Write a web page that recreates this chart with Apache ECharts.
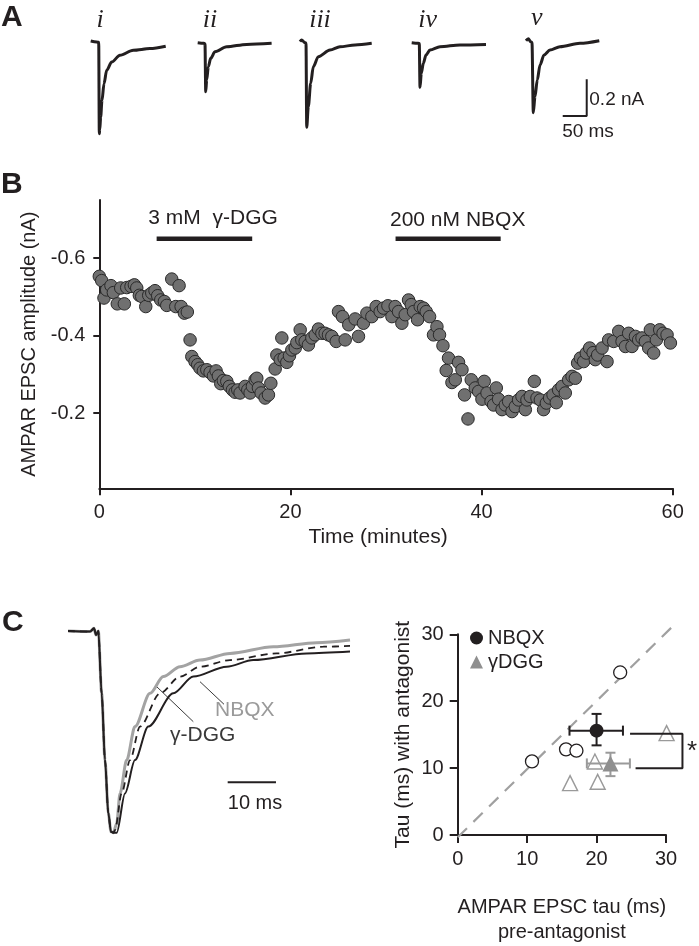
<!DOCTYPE html>
<html><head><meta charset="utf-8">
<script src="https://cdn.jsdelivr.net/npm/echarts@6/dist/echarts.min.js"></script>
<style>html,body{margin:0;padding:0;background:#fff}#c{width:699px;height:946px}</style>
</head><body><div id="c"></div>
<script>
// ---------- Panel A: example EPSC traces [time (ms), current (nA)] ----------
const traceI = [[0,0.005],[12.5,0],[16.7,-0.002],[17.9,-0.5],[18.75,-0.48],[20.8,-0.409],[23.5,-0.318],[27.7,-0.227],[33.3,-0.154],[43.75,-0.109],[61,-0.072],[88.75,-0.045],[123.5,-0.036],[156.3,-0.023]];
const traceII = [[0,-0.004],[13.1,-0.007],[15.2,-0.009],[16.7,-0.271],[18.75,-0.207],[22.1,-0.135],[27.1,-0.089],[36,-0.053],[60.4,-0.026],[102,-0.013],[154,-0.007]];
const traceIII = [[0,0.002],[3.5,0.011],[10.4,-0.004],[12.5,-0.005],[14,-0.465],[17.3,-0.353],[22.3,-0.225],[27.7,-0.135],[38.1,-0.08],[62.5,-0.044],[83.3,-0.026],[114.6,-0.016],[149.4,-0.007]];
const traceIV = [[0,-0.004],[13.75,-0.007],[15.8,-0.008],[17.3,-0.247],[20,-0.171],[24.2,-0.116],[29.8,-0.071],[38.1,-0.044],[59,-0.026],[100.6,-0.016],[154.8,-0.013]];
const traceV = [[0,0.007],[4.8,0.018],[9.8,0.002],[12.5,-0.003],[15.2,-0.385],[18.75,-0.298],[23.5,-0.207],[29.2,-0.125],[37.5,-0.071],[50,-0.044],[70.8,-0.026],[112.5,-0.007],[152.7,0.007]];
const traceLabels = ['i','ii','iii','iv','v'];
const scaleA = {ms: 50, nA: 0.2};

// ---------- Panel B: amplitude time course ----------
const bTime = [0.0,0.25,0.49,0.77,1.22,1.47,1.88,2.24,2.62,2.87,3.32,3.67,3.92,4.19,4.44,4.86,5.17,5.49,5.83,6.11,6.43,6.81,7.06,7.58,8.0,8.35,8.56,8.9,9.21,9.5,9.68,10.02,10.3,10.54,10.89,11.25,11.59,11.94,12.22,12.46,12.71,12.98,13.34,13.61,13.93,14.21,14.49,14.73,15.26,15.54,15.78,16.02,16.3,16.48,16.65,16.93,17.35,17.7,17.95,18.4,18.58,18.93,19.1,19.34,19.62,19.9,20.15,20.5,20.67,21.02,21.19,21.54,21.88,22.24,22.59,22.93,23.29,23.63,23.98,24.33,24.79,25.03,25.45,25.73,26.1,26.77,27.12,27.64,28.0,28.52,28.97,29.39,29.74,30.2,30.62,30.96,31.31,31.66,32.01,32.36,32.64,32.88,33.3,33.58,33.93,34.21,34.56,34.97,35.33,35.6,35.96,36.3,36.54,36.9,37.25,37.59,37.95,38.22,38.58,38.92,39.34,39.69,40.04,40.28,40.57,40.99,41.26,41.54,41.78,42.14,42.48,42.83,43.18,43.53,43.87,44.23,44.58,44.75,45.1,45.52,45.8,46.15,46.49,46.78,47.12,47.48,47.82,48.06,48.42,48.76,49.11,49.47,49.81,50.05,50.34,50.68,50.96,51.31,51.67,51.9,52.15,52.61,53.13,53.3,53.82,54.35,54.7,55.05,55.39,55.74,56.1,56.44,56.79,57.14,57.49,57.66,58.01,58.29,58.64,58.99,59.41,59.76];
const bAmp = [-0.553,-0.542,-0.497,-0.518,-0.529,-0.511,-0.482,-0.523,-0.482,-0.524,-0.527,-0.531,-0.523,-0.504,-0.501,-0.475,-0.504,-0.51,-0.516,-0.503,-0.492,-0.488,-0.478,-0.546,-0.475,-0.529,-0.475,-0.458,-0.461,-0.389,-0.346,-0.333,-0.325,-0.316,-0.309,-0.312,-0.305,-0.296,-0.309,-0.296,-0.276,-0.284,-0.282,-0.269,-0.26,-0.254,-0.26,-0.252,-0.269,-0.26,-0.252,-0.269,-0.286,-0.29,-0.265,-0.252,-0.239,-0.247,-0.277,-0.314,-0.35,-0.338,-0.394,-0.342,-0.331,-0.348,-0.363,-0.368,-0.382,-0.415,-0.389,-0.385,-0.376,-0.394,-0.402,-0.417,-0.406,-0.406,-0.402,-0.398,-0.385,-0.462,-0.449,-0.389,-0.428,-0.443,-0.398,-0.432,-0.458,-0.449,-0.475,-0.462,-0.471,-0.477,-0.449,-0.475,-0.462,-0.432,-0.454,-0.492,-0.48,-0.462,-0.441,-0.475,-0.471,-0.462,-0.449,-0.402,-0.423,-0.402,-0.374,-0.31,-0.342,-0.279,-0.286,-0.331,-0.312,-0.247,-0.185,-0.286,-0.265,-0.256,-0.236,-0.282,-0.252,-0.23,-0.221,-0.265,-0.236,-0.209,-0.221,-0.23,-0.204,-0.217,-0.234,-0.243,-0.209,-0.234,-0.243,-0.282,-0.239,-0.234,-0.209,-0.226,-0.239,-0.247,-0.227,-0.26,-0.269,-0.252,-0.286,-0.295,-0.29,-0.329,-0.342,-0.333,-0.355,-0.368,-0.356,-0.338,-0.35,-0.368,-0.333,-0.389,-0.385,-0.411,-0.385,-0.372,-0.406,-0.372,-0.398,-0.389,-0.394,-0.385,-0.368,-0.415,-0.355,-0.389,-0.415,-0.406,-0.402,-0.381];
const drugNames = ['3 mM  γ-DGG', '200 nM NBQX'];
const drugStart = [6, 31];
const drugEnd = [16, 42];

// ---------- Panel C left: normalized EPSC decay [time (ms), normalized] ----------
const traceGray = [[0,0],[4.55,-0.003],[5.38,0.013],[5.8,-0.02],[6.28,0],[6.97,-0.309],[7.66,-0.64],[8.35,-0.904],[8.9,-0.995],[9.39,-1],[10.08,-0.954],[10.77,-0.805],[12.15,-0.64],[13.87,-0.474],[16.98,-0.309],[19.74,-0.226],[23.19,-0.177],[27.33,-0.144],[33.54,-0.111],[42.51,-0.078],[51.48,-0.058],[58.39,-0.045]];
const traceDash = [[0,0],[4.55,-0.003],[5.38,0.013],[5.8,-0.02],[6.28,0],[6.97,-0.309],[7.66,-0.64],[8.35,-0.904],[8.9,-0.995],[9.39,-1],[9.73,-0.987],[11.11,-0.805],[12.84,-0.64],[14.91,-0.474],[19.05,-0.309],[23.19,-0.226],[27.33,-0.177],[33.54,-0.144],[43.2,-0.111],[52.86,-0.078],[58.39,-0.074]];
const traceBlack = [[0,0],[4.55,-0.003],[5.38,0.013],[5.8,-0.02],[6.28,0],[6.97,-0.309],[7.66,-0.64],[8.35,-0.904],[8.9,-0.995],[9.39,-1],[10.08,-1],[11.8,-0.805],[13.87,-0.64],[16.63,-0.474],[21.81,-0.309],[25.95,-0.226],[32.85,-0.177],[38.37,-0.144],[49.4,-0.111],[58.39,-0.102]];
const scaleC = {ms: 10};

// ---------- Panel C right: tau scatter ----------
const nbqxPre = [10.7, 15.6, 17.1, 23.4];
const nbqxPost = [11.0, 12.8, 12.6, 24.3];
const dggPre = [16.3, 19.9, 20.3, 30.3];
const dggPost = [8.0, 11.2, 8.2, 15.4];
// mean: [x, y, xLow, xHigh, yLow, yHigh]
const nbqxMean = [20.0, 15.6, 16.1, 23.8, 13.4, 18.1];
const dggMean = [22.0, 10.7, 18.6, 24.8, 8.8, 12.3];
const identityLine = [[0,0],[31,31]];
const sigBracket = [[25.0,15.3],[32.6,15.3],[32.6,10.2],[25.8,10.2]];

// ---------------- build ----------------
const FONT = '"Liberation Sans", Arial, Helvetica, sans-serif';
const INK = '#231f20';
const chart = echarts.init(document.getElementById('c'), null, {renderer:'canvas'});

const grids = [], xAxes = [], yAxes = [], series = [];
// Panel A grids
const aLefts = [90.7, 197.7, 300, 411.7, 526];
const aTraces = [traceI, traceII, traceIII, traceIV, traceV];
aLefts.forEach((l, i) => {
  grids.push({left: l, top: 23.65, width: 76.8, height: 128.45});
  xAxes.push({type:'value', gridIndex:i, min:0, max:160, show:false});
  yAxes.push({type:'value', gridIndex:i, min:-0.6, max:0.1, show:false});
  series.push({type:'line', xAxisIndex:i, yAxisIndex:i, data:aTraces[i], symbol:'none', smooth:0.3, smoothMonotone:'x',
    lineStyle:{color:INK, width:3}, clip:false, silent:true});
});
// scale bar in panel A (drawn in trace v coords)
const sbX = 126.5, sbY = -0.403;
series.push({type:'line', xAxisIndex:4, yAxisIndex:4, symbol:'none', clip:false,
  data:[[sbX - scaleA.ms, sbY],[sbX, sbY],[sbX, sbY + scaleA.nA]], lineStyle:{color:INK, width:2}});

// Panel B
const gB = 5;
grids.push({left: 99.3, top: 200, width: 573.4, height: 288.3});
const bTicks = [-0.6, -0.4, -0.2];
xAxes.push({type:'value', gridIndex:gB, min:0, max:60, interval:20,
  axisLine:{onZero:false, lineStyle:{color:INK, width:2}},
  axisTick:{length:7, lineStyle:{color:INK, width:2}},
  axisLabel:{fontSize:20, color:INK, fontFamily:FONT, margin:14},
  splitLine:{show:false},
  name:'Time (minutes)', nameLocation:'middle', nameGap:38,
  nameTextStyle:{fontSize:21, color:INK, fontFamily:FONT, padding:[0,16,0,0]}});
yAxes.push({type:'value', gridIndex:gB, inverse:true, min:-0.75, max:-0.006,
  axisLine:{show:true, onZero:false, lineStyle:{color:INK, width:2}},
  axisTick:{show:true, length:6, customValues:bTicks, lineStyle:{color:INK, width:2}},
  axisLabel:{customValues:bTicks, fontSize:20, color:INK, fontFamily:FONT, margin:14, formatter:v=>v.toFixed(1)},
  splitLine:{show:false},
  name:'AMPAR EPSC amplitude (nA)', nameLocation:'middle', nameGap:52,
  nameTextStyle:{fontSize:20, color:INK, fontFamily:FONT}});
series.push({type:'scatter', xAxisIndex:gB, yAxisIndex:gB, symbolSize:12.5,
  data: bTime.map((t,i)=>[t, bAmp[i]]),
  itemStyle:{color:'#707070', borderColor:'#2a2a2a', borderWidth:1, opacity:1}, clip:false});
drugStart.forEach((s,i)=>{
  series.push({type:'line', xAxisIndex:gB, yAxisIndex:gB, symbol:'none', clip:false,
    data:[[s,-0.65],[drugEnd[i],-0.65]], lineStyle:{color:INK, width:4.5}});
});

// Panel C left
const gCL = 6;
grids.push({left: 68, top: 620.9, width: 289.8, height: 221.9});
xAxes.push({type:'value', gridIndex:gCL, min:0, max:60, show:false});
yAxes.push({type:'value', gridIndex:gCL, min:-1.05, max:0.05, show:false});
series.push({type:'line', xAxisIndex:gCL, yAxisIndex:gCL, data:traceGray, symbol:'none', smooth:0.3, smoothMonotone:'x', lineStyle:{color:'#a3a3a3', width:3}});
series.push({type:'line', xAxisIndex:gCL, yAxisIndex:gCL, data:traceDash, symbol:'none', smooth:0.3, smoothMonotone:'x', lineStyle:{color:INK, width:1.8, type:[7,5]}});
series.push({type:'line', xAxisIndex:gCL, yAxisIndex:gCL, data:traceBlack, symbol:'none', smooth:0.3, smoothMonotone:'x', lineStyle:{color:INK, width:2}});
const sbCX = 33.06, sbCY = -0.75;
series.push({type:'line', xAxisIndex:gCL, yAxisIndex:gCL, symbol:'none', clip:false,
  data:[[sbCX, sbCY],[sbCX + scaleC.ms, sbCY]], lineStyle:{color:INK, width:2}});

// Panel C right (visible axes)
const gCR = 7;
const crLeft = 457.7, crBottom = 837.3, pxX = 208.3/30, pxY = 203/30;
grids.push({left: crLeft, top: crBottom - 30*pxY, width: 30*pxX, height: 30*pxY});
xAxes.push({type:'value', gridIndex:gCR, min:0, max:30, interval:10,
  axisLine:{onZero:false, lineStyle:{color:INK, width:2}},
  axisTick:{length:8, lineStyle:{color:INK, width:2}},
  axisLabel:{fontSize:20, color:INK, fontFamily:FONT, margin:14},
  splitLine:{show:false},
  name:'AMPAR EPSC tau (ms)\npre-antagonist', nameLocation:'middle', nameGap:60,
  nameTextStyle:{fontSize:20, color:INK, fontFamily:FONT, lineHeight:25, verticalAlign:'top'}});
yAxes.push({type:'value', gridIndex:gCR, min:0, max:30, interval:10,
  axisLine:{onZero:false, lineStyle:{color:INK, width:2}},
  axisTick:{length:8, lineStyle:{color:INK, width:2}},
  axisLabel:{fontSize:20, color:INK, fontFamily:FONT, margin:14},
  splitLine:{show:false},
  name:'Tau (ms) with antagonist', nameLocation:'middle', nameGap:44,
  nameTextStyle:{fontSize:21, color:INK, fontFamily:FONT}});
// overlay grid: same scale, wider extent, for marks beyond the axis ends
const gCO = 8;
grids.push({left: crLeft, top: crBottom - 35*pxY, width: 35*pxX, height: 35*pxY});
xAxes.push({type:'value', gridIndex:gCO, min:0, max:35, show:false});
yAxes.push({type:'value', gridIndex:gCO, min:0, max:35, show:false});

series.push({type:'line', xAxisIndex:gCO, yAxisIndex:gCO, data:identityLine, symbol:'none',
  lineStyle:{color:'#a0a0a0', width:2.2, type:[13,9]}, z:1});
series.push({type:'scatter', xAxisIndex:gCR, yAxisIndex:gCR, symbol:'circle', symbolSize:13,
  data: nbqxPre.map((x,i)=>[x, nbqxPost[i]]),
  itemStyle:{color:'#fff', borderColor:INK, borderWidth:1.3, opacity:1}, z:2});
series.push({type:'scatter', xAxisIndex:gCO, yAxisIndex:gCO, symbol:'triangle', symbolSize:15,
  data: dggPre.map((x,i)=>[x, dggPost[i]]),
  itemStyle:{color:'#fff', borderColor:'#9a9a9a', borderWidth:1.4, opacity:1}, z:2});
function errRender(color){
  return function(params, api){
    const x=api.value(0), y=api.value(1);
    const pL=api.coord([api.value(2),y]), pR=api.coord([api.value(3),y]);
    const pB=api.coord([x,api.value(4)]), pT=api.coord([x,api.value(5)]);
    const c=5, st={stroke:color, lineWidth:2};
    const ln=(x1,y1,x2,y2)=>({type:'line', shape:{x1,y1,x2,y2}, style:st});
    return {type:'group', children:[
      ln(pL[0],pL[1],pR[0],pR[1]), ln(pL[0],pL[1]-c,pL[0],pL[1]+c), ln(pR[0],pR[1]-c,pR[0],pR[1]+c),
      ln(pB[0],pB[1],pT[0],pT[1]), ln(pB[0]-c,pB[1],pB[0]+c,pB[1]), ln(pT[0]-c,pT[1],pT[0]+c,pT[1])
    ]};
  };
}
series.push({type:'custom', xAxisIndex:gCR, yAxisIndex:gCR, renderItem:errRender(INK), data:[nbqxMean], encode:{x:0,y:1}, z:3, silent:true});
series.push({type:'custom', xAxisIndex:gCR, yAxisIndex:gCR, renderItem:errRender('#9a9a9a'), data:[dggMean], encode:{x:0,y:1}, z:3, silent:true});
series.push({name:'NBQX', type:'scatter', xAxisIndex:gCR, yAxisIndex:gCR, symbol:'circle', symbolSize:14,
  data:[[nbqxMean[0], nbqxMean[1]]], itemStyle:{color:INK, opacity:1}, z:4});
series.push({name:'γDGG', type:'scatter', xAxisIndex:gCR, yAxisIndex:gCR, symbol:'triangle', symbolSize:16,
  data:[[dggMean[0], dggMean[1]]], itemStyle:{color:'#8f8f8f', opacity:1}, z:4});
series.push({type:'line', xAxisIndex:gCO, yAxisIndex:gCO, data:sigBracket, symbol:'none',
  lineStyle:{color:INK, width:2}, z:3});

// text annotations
const txt = (text, x, y, o={}) => ({type:'text', x, y, silent:true, style:Object.assign({text, fill:INK, font:`20px ${FONT}`, textAlign:'left', textVerticalAlign:'middle'}, o)});
const aCenters = [[100,20],[210,20],[320,20],[427.7,20],[536.7,18]];
const graphic = [
  txt('A', 1, 18, {font:`bold 30px ${FONT}`}),
  txt('B', 1, 185, {font:`bold 30px ${FONT}`}),
  txt('C', 2, 623, {font:`bold 30px ${FONT}`}),
  ...traceLabels.map((t,i)=>txt(t, aCenters[i][0], aCenters[i][1], {font:`italic 26px "Liberation Serif", "Times New Roman", serif`, textAlign:'center'})),
  txt('0.2 nA', 589.3, 100, {font:`19px ${FONT}`}),
  txt('50 ms', 588, 132, {font:`19px ${FONT}`, textAlign:'center'}),
  txt(drugNames[0], 148.3, 218.5, {font:`21px ${FONT}`}),
  txt(drugNames[1], 390, 220, {font:`21px ${FONT}`}),
  txt('NBQX', 215, 710, {font:`21px ${FONT}`, fill:'#9a9a9a'}),
  txt('γ-DGG', 170, 735, {font:`21px ${FONT}`, fill:'#3a3a3a'}),
  txt('10 ms', 255, 803, {font:`20px ${FONT}`, textAlign:'center'}),
  txt('*', 692, 752, {font:`26px ${FONT}`, textAlign:'center'}),
  {type:'line', silent:true, shape:{x1:200,y1:681.7,x2:224,y2:704.3}, style:{stroke:'#3a3a3a', lineWidth:1}},
  {type:'line', silent:true, shape:{x1:156.7,y1:686.7,x2:193.3,y2:721.7}, style:{stroke:'#3a3a3a', lineWidth:1}}
];

chart.setOption({
  animation:false,
  backgroundColor:'#fff',
  textStyle:{fontFamily:FONT},
  grid:grids, xAxis:xAxes, yAxis:yAxes, series,
  legend:{data:[{name:'NBQX', icon:'circle'},{name:'γDGG', icon:'triangle'}], orient:'vertical', left:465, top:623,
    itemWidth:13, itemHeight:13, itemGap:4, selectedMode:false,
    textStyle:{fontSize:20, color:INK, fontFamily:FONT}},
  graphic
});
</script></body></html>
